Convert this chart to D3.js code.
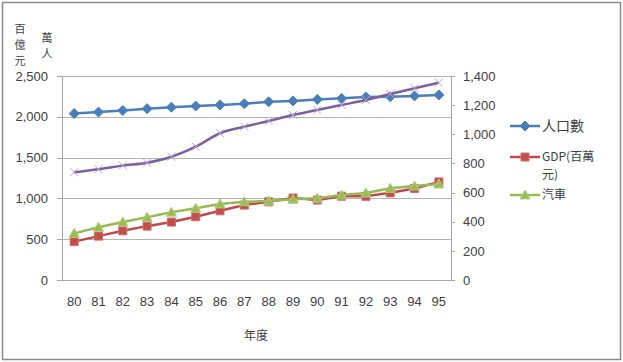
<!DOCTYPE html>
<html lang="zh-Hant">
<head>
<meta charset="UTF-8">
<title>人口數、GDP與汽車</title>
<script src="https://d3js.org/d3.v7.min.js"></script>
<style>
  body { margin: 0; background: #fff; }
  .axis text { font-family: "Liberation Sans", Arial, sans-serif; font-size: 13px; fill: #404040; }
  .axis path, .axis line { stroke: #a6a6a6; shape-rendering: crispEdges; }
  .grid line { stroke: #b3b3b3; shape-rendering: crispEdges; }
  .cjk { font-family: "Noto Sans CJK TC", sans-serif; fill: #404040; }
  .legend text { font-family: "Noto Sans CJK TC", "Liberation Sans", sans-serif; fill: #404040; }
</style>
</head>
<body>
<div id="chart"></div>
<script>
// 年度 (民國)
var years = ["80","81","82","83","84","85","86","87","88","89","90","91","92","93","94","95"];
// 人口數 (萬人) - left axis
var population = [2040, 2058, 2078, 2100, 2118, 2132, 2146, 2160, 2184, 2195, 2213, 2226, 2243, 2247, 2255, 2268];
// GDP (百億元) - left axis
var gdp = [470, 538, 603, 660, 710, 775, 848, 918, 958, 1005, 980, 1027, 1025, 1068, 1122, 1202];
// 汽車 (萬輛) - right axis
var cars = [320, 362, 398, 430, 465, 492, 522, 537, 542, 554, 561, 583, 597, 629, 645, 659];
// 第四條線 (圖例未列出) - right axis
var motorcycles = [739, 760, 785, 805, 846, 915, 1007, 1052, 1091, 1132, 1167, 1201, 1235, 1277, 1316, 1354];

var leftTicks = [0, 500, 1000, 1500, 2000, 2500];
var rightTicks = [0, 200, 400, 600, 800, 1000, 1200, 1400];

var width = 623, height = 362;
var plot = { left: 62, right: 451, top: 76, bottom: 280 };

var svg = d3.select("#chart").append("svg")
  .attr("width", width)
  .attr("height", height);

// 外框
svg.append("rect")
  .attr("x", 2.5).attr("y", 2.5)
  .attr("width", width - 5).attr("height", height - 5)
  .attr("fill", "#fff")
  .attr("stroke", "#8c8c8c")
  .attr("stroke-width", 1.5);

var x = d3.scaleBand().domain(years).range([plot.left, plot.right]);
var yL = d3.scaleLinear().domain([0, 2500]).range([plot.bottom, plot.top]);
var yR = d3.scaleLinear().domain([0, 1400]).range([plot.bottom, plot.top]);
var cx = function (d, i) { return x(years[i]) + x.bandwidth() / 2; };

// 格線
svg.append("g")
  .attr("class", "grid")
  .attr("transform", "translate(" + plot.left + ",0)")
  .call(d3.axisRight(yL).tickValues(leftTicks).tickSize(plot.right - plot.left).tickFormat(""))
  .call(function (g) { g.select(".domain").remove(); });

// 左軸
svg.append("g")
  .attr("class", "axis")
  .attr("transform", "translate(" + plot.left + ",0)")
  .call(d3.axisLeft(yL).tickValues(leftTicks).tickSize(5).tickSizeOuter(0).tickPadding(9).tickFormat(d3.format(",")));

// 右軸
svg.append("g")
  .attr("class", "axis")
  .attr("transform", "translate(" + plot.right + ",0)")
  .call(d3.axisRight(yR).tickValues(rightTicks).tickSize(4).tickSizeOuter(0).tickPadding(8).tickFormat(d3.format(",")));

// 橫軸
var xAxis = svg.append("g")
  .attr("class", "axis")
  .attr("transform", "translate(0," + plot.bottom + ")")
  .call(d3.axisBottom(x).tickSize(0).tickPadding(17));
xAxis.select(".domain").attr("d", "M" + (plot.left - 5) + ",0.5H" + plot.right);

// 軸標題
var leftUnit = ["百", "億", "元"];
svg.selectAll(".unit1").data(leftUnit).enter().append("text")
  .attr("class", "cjk")
  .attr("x", 20).attr("y", function (d, i) { return 33 + i * 16; })
  .attr("text-anchor", "middle")
  .style("font-size", "11px")
  .text(function (d) { return d; });
var leftUnit2 = ["萬", "人"];
svg.selectAll(".unit2").data(leftUnit2).enter().append("text")
  .attr("class", "cjk")
  .attr("x", 47).attr("y", function (d, i) { return 42 + i * 16; })
  .attr("text-anchor", "middle")
  .style("font-size", "11px")
  .text(function (d) { return d; });
svg.append("text")
  .attr("class", "cjk")
  .attr("x", 256).attr("y", 340)
  .attr("text-anchor", "middle")
  .style("font-size", "12px")
  .text("年度");

// 線
var series = [
  { name: "人口數", values: population, scale: yL, color: "#4a7ebb", marker: "diamond" },
  { name: "GDP(百萬元)", values: gdp, scale: yL, color: "#be4b48", marker: "square" },
  { name: "汽車", values: cars, scale: yR, color: "#98b954", marker: "triangle" },
  { name: "", values: motorcycles, scale: yR, color: "#7d5fa0", marker: "x" }
];

function drawMarker(g, type, color) {
  if (type === "diamond") {
    g.append("path").attr("d", "M0,-5L5,0L0,5L-5,0Z").attr("fill", color).attr("stroke", color);
  } else if (type === "square") {
    g.append("path").attr("d", "M-4,-4H4V4H-4Z").attr("fill", "#c0504d").attr("stroke", "#d46a66");
  } else if (type === "triangle") {
    g.append("path").attr("d", "M0,-5L5,4H-5Z").attr("fill", "#9bbb59").attr("stroke", "#b0cd79");
  } else {
    g.append("path").attr("d", "M-4,-4L4,4M-4,4L4,-4").attr("fill", "none").attr("stroke", "#b7a6d0").attr("stroke-width", 1);
  }
}

series.forEach(function (s) {
  var line = d3.line()
    .x(cx)
    .y(function (d) { return s.scale(d); })
    .curve(s.marker === "x" ? d3.curveMonotoneX : d3.curveLinear);
  svg.append("path")
    .attr("d", line(s.values))
    .attr("fill", "none")
    .attr("stroke", s.color)
    .attr("stroke-width", 2.5)
    .attr("stroke-linejoin", "round");
  svg.selectAll(null).data(s.values).enter().append("g")
    .attr("transform", function (d, i) { return "translate(" + cx(d, i) + "," + s.scale(d) + ")"; })
    .each(function () { drawMarker(d3.select(this), s.marker, s.color); });
});

// 圖例
var legendItems = [
  { lines: ["人口數"], y: 126, s: series[0], size: 14 },
  { lines: ["GDP(百萬", "元)"], y: 157, s: series[1], size: 12 },
  { lines: ["汽車"], y: 195, s: series[2], size: 12 }
];
var legend = svg.append("g").attr("class", "legend");
legendItems.forEach(function (it) {
  legend.append("line")
    .attr("x1", 510).attr("x2", 540)
    .attr("y1", it.y).attr("y2", it.y)
    .attr("stroke", it.s.color).attr("stroke-width", 2.5);
  var m = legend.append("g").attr("transform", "translate(525," + it.y + ")");
  drawMarker(m, it.s.marker, it.s.color);
  it.lines.forEach(function (t, j) {
    legend.append("text")
      .attr("x", 542).attr("y", it.y + j * 18)
      .attr("dy", "0.35em")
      .style("font-size", it.size + "px")
      .text(t);
  });
});
</script>
</body>
</html>
